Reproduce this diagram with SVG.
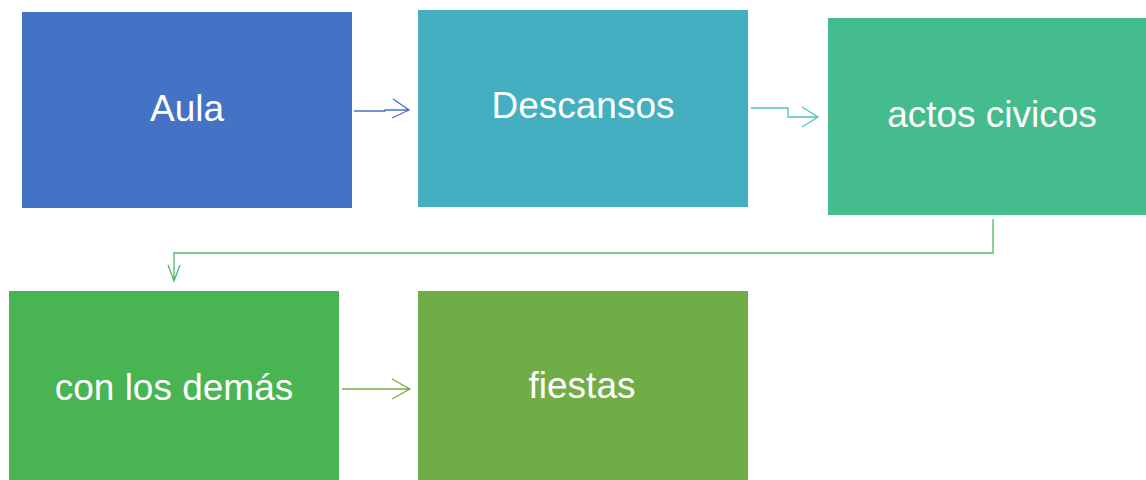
<svg xmlns="http://www.w3.org/2000/svg" width="1146" height="480" viewBox="0 0 1146 480">
<style>
.lbl{font-family:"Liberation Sans",Arial,sans-serif;font-size:37px;fill:#ffffff;text-anchor:middle}
.cn{fill:none;stroke-width:1.3}
</style>
<rect width="1146" height="480" fill="#ffffff"/>
<g id="n-aula"><rect x="22" y="12" width="330" height="196" fill="#4472C4"/><text class="lbl" x="187" y="121">Aula</text></g>
<g id="n-descansos"><rect x="418" y="10" width="330" height="197" fill="#44AFC1"/><text class="lbl" x="583" y="118">Descansos</text></g>
<g id="n-actos"><rect x="828" y="18" width="330" height="197" fill="#45BC8D"/><text class="lbl" x="992" y="127">actos civicos</text></g>
<g id="n-con"><rect x="9" y="291" width="330" height="197" fill="#48B552"/><text class="lbl" x="174" y="400">con los demás</text></g>
<g id="n-fiestas"><rect x="418" y="291" width="330" height="197" fill="#70AD47"/><text class="lbl" x="582" y="398">fiestas</text></g>
<g id="connectors">
<path class="cn" stroke="#4472C4" d="M354 111 H385 V110 H409 M393 99 L409 110 L392 118"/>
<path class="cn" stroke="#4DC4C0" d="M751 108 H788 V117 H818 M802 107 L818 117 L802 127"/>
<path class="cn" stroke="#4CB86A" d="M993 219 V253 H174 V281 M168 265 L174 281 L180 265"/>
<path class="cn" stroke="#70AD47" d="M342 389 H410 M392 379 L410 389 L392 399"/>
</g>
</svg>
